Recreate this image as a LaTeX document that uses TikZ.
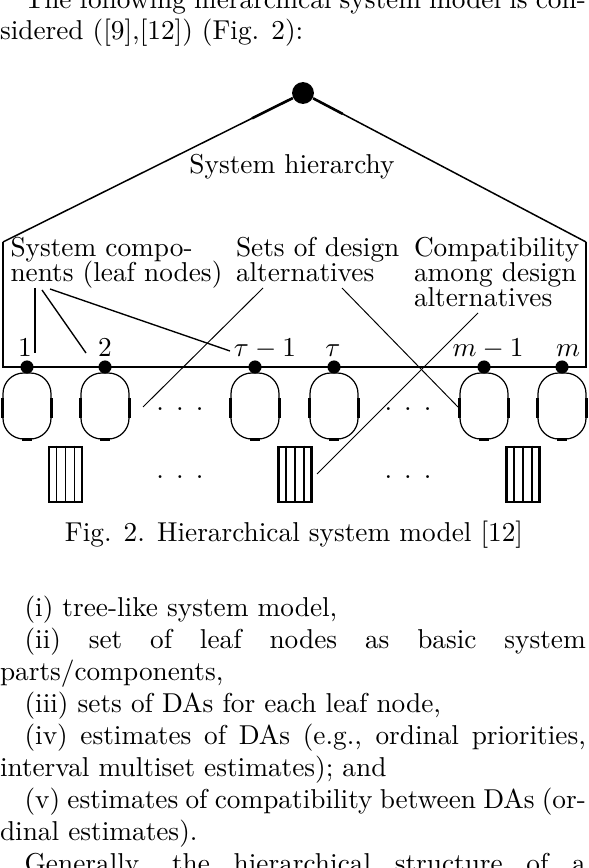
\documentclass[tikz,border=0pt]{standalone}
\usetikzlibrary{calc}
\begin{document}
\begin{tikzpicture}[x=0.3663pt,y=-0.3663pt,
  txt/.style={anchor=base west,inner sep=0pt,outer sep=0pt},
  ctxt/.style={anchor=base,inner sep=0pt,outer sep=0pt},
  frameline/.style={line width=1.05pt},
  treeedge/.style={line width=0.55pt},
  treestub/.style={line width=0.95pt},
  leader/.style={line width=0.35pt},
  compline/.style={line width=0.5pt},
  rootdot/.style={circle,fill=black,draw=none,inner sep=0pt,minimum size=8pt},
  leafdot/.style={circle,fill=black,draw=none,inner sep=0pt,minimum size=4.8pt},
  daoval/.style={draw,line width=0.45pt,rectangle,rounded corners=7.6pt,inner sep=0pt,minimum width=17.58pt,minimum height=24.18pt},
  damark/.style={line width=1pt},
  darect/.style={draw,line width=1pt,rectangle,inner sep=0pt,minimum width=12.09pt,minimum height=20.15pt},
  dastripe/.style={line width=0.55pt}
]
\useasboundingbox (0,0) rectangle (588,868);
\def\tw{214.6pt}
% ---- body text above
\node[txt] (l1) at (0,9) {\makebox[\tw][s]{\hspace*{9pt}The following hierarchical system model is con-}};
\node[txt] (l2) at (0,40) {sidered ([9],[12]) (Fig. 2):};
% ---- tree frame
\node[rootdot] (root) at (303,93) {};
\coordinate (cl) at (3,242);
\coordinate (cr) at (586,242);
\coordinate (bl) at (3,367);
\coordinate (br) at (586,367);
\draw[treeedge] (root) -- (cl);
\draw[treeedge] (root) -- (cr);
\draw[treestub] (root) -- ($(root)!0.17!(cl)$);
\draw[treestub] (root) -- ($(root)!0.14!(cr)$);
\draw[frameline] (cl) -- (bl) -- (br) -- (cr);
\node[ctxt] (hier) at (292,174) {System hierarchy};
% ---- design alternative sets (ovals)
\foreach \n/\x in {1/27,2/105,3/255,4/334,5/484,6/562}{
  \node[daoval] (da\n) at (\x,406) {};
  \draw[damark] ($(da\n.west)+(0,-8)$) -- ($(da\n.west)+(0,12)$);
  \draw[damark] ($(da\n.east)+(0,-8)$) -- ($(da\n.east)+(0,12)$);
  \draw[damark] ($(da\n.south)+(-5,0)$) -- ($(da\n.south)+(5,0)$);
  \node[leafdot] (v\n) at (\x,367) {};
}
% ---- leaf labels
\node[ctxt] (lab1) at (25,357) {$1$};
\node[ctxt] (lab2) at (105,357) {$2$};
\node[ctxt] (lab3) at (265,357) {$\tau-1$};
\node[ctxt] (lab4) at (333,357) {$\tau$};
\node[ctxt] (lab5) at (488,357) {$m-1$};
\node[ctxt] (lab6) at (568,357) {$m$};
% ---- compatibility blocks
\node[darect] (s1) at (65.5,474.5) {};
\node[darect] (s2) at (295,474.5) {};
\node[darect] (s3) at (523,474.5) {};
\foreach \s in {s1,s2,s3}{
  \foreach \f in {0.25,0.5,0.75}{
    \draw[dastripe] ($(\s.north west)!\f!(\s.north east)$) -- ($(\s.south west)!\f!(\s.south east)$);
  }
}
% ---- ellipses
\node[ctxt] (e1) at (180,410.5) {. . .};
\node[ctxt] (e2) at (408,410.5) {. . .};
\node[ctxt] (e3) at (180,478.5) {. . .};
\node[ctxt] (e4) at (408,478.5) {. . .};
% ---- labels
\node[txt] (sc1) at (10.5,257) {System compo-};
\node[txt] (sc2) at (10.5,282) {nents (leaf nodes)};
\node[txt] (sd1) at (236,257) {Sets of design};
\node[txt] (sd2) at (236,282) {alternatives};
\node[txt] (cp1) at (414,257) {Compatibility};
\node[txt] (cp2) at (414,282) {among design};
\node[txt] (cp3) at (414,307) {alternatives};
% ---- leader lines
\coordinate (a1) at (35,288);  \coordinate (t1) at (35,353);
\coordinate (a2) at (42,290);  \coordinate (t2) at (86,353);
\coordinate (a3) at (50,289);  \coordinate (t3) at (230,351);
\draw[line width=0.7pt] (a1) -- (t1);
\draw[compline] (a2) -- (t2);
\draw[compline] (a3) -- (t3);
\coordinate (b1) at (263,288); \coordinate (u1) at (143,407);
\coordinate (b2) at (342,288); \coordinate (u2) at (458,407);
\draw[leader] (b1) -- (u1);
\draw[leader] (b2) -- (u2);
\coordinate (c1) at (478,313); \coordinate (w1) at (317,474);
\draw[leader] (c1) -- (w1);
% ---- caption
\node[ctxt] (cap) at (294,541) {Fig. 2. Hierarchical system model [12]};
% ---- body text below
\node[txt] (i1) at (0,616) {\hspace*{9pt}(i) tree-like system model,};
\node[txt] (i2) at (0,648) {\makebox[\tw][s]{\hspace*{9pt}(ii) set of leaf nodes as basic system}};
\node[txt] (i2b) at (0,680) {parts/components,};
\node[txt] (i3) at (0,712) {\hspace*{9pt}(iii) sets of DAs for each leaf node,};
\node[txt] (i4) at (0,744) {\makebox[\tw][s]{\hspace*{9pt}(iv) estimates of DAs (e.g., ordinal priorities,}};
\node[txt] (i4b) at (0,776) {interval multiset estimates); and};
\node[txt] (i5) at (0,808) {\makebox[\tw][s]{\hspace*{9pt}(v) estimates of compatibility between DAs (or-}};
\node[txt] (i5b) at (0,840) {dinal estimates).};
\node[txt] (gen) at (0,872) {\makebox[\tw][s]{\hspace*{9pt}Generally, the hierarchical structure of a}};
\end{tikzpicture}
\end{document}
